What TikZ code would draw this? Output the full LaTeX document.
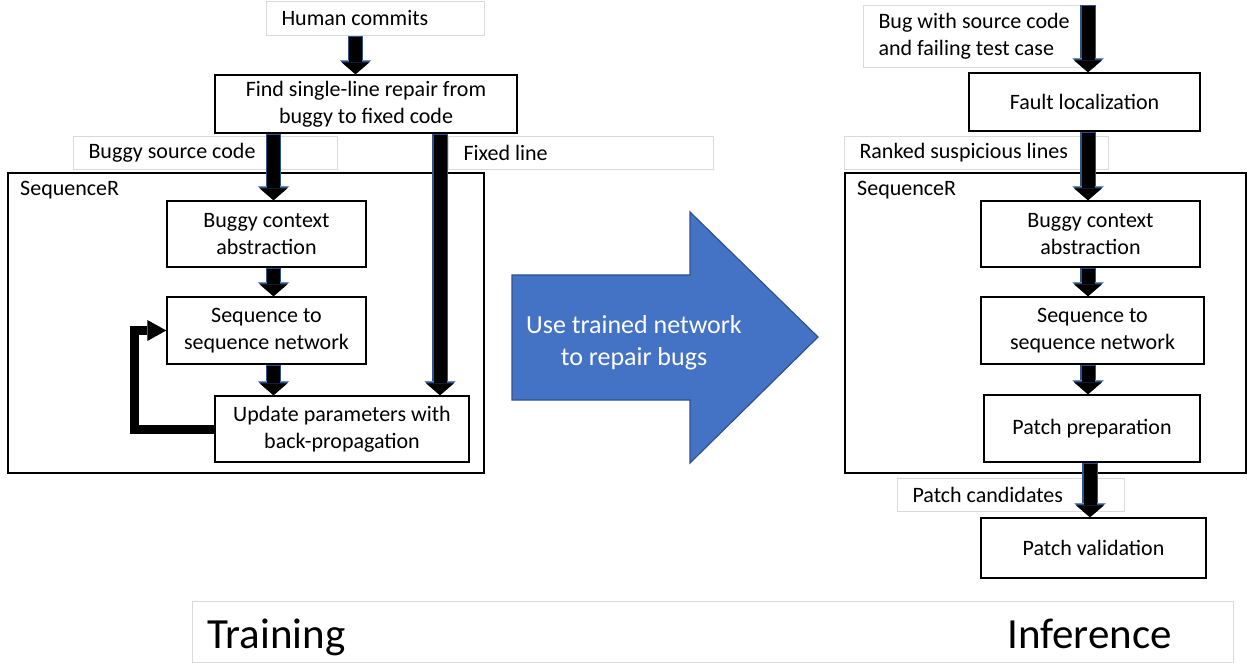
\documentclass[tikz,border=0pt]{standalone}
\usepackage{fontspec}
\setmainfont{Carlito}
\usetikzlibrary{arrows.meta}
\usetikzlibrary{calc}
\definecolor{arrowedge}{HTML}{2F528F}
\definecolor{bigblue}{HTML}{4472C4}
\definecolor{tagline}{HTML}{D9D9D9}
\tikzstyle{stage}=[draw, line width=1.4pt, align=center, inner sep=2pt]
\tikzstyle{tag}=[draw=tagline, line width=1pt, anchor=north west, align=flush left, inner xsep=15pt, inner ysep=0pt]
\tikzstyle{frame}=[draw, line width=1.8pt, anchor=north west, inner sep=0pt]
\tikzstyle{flow}=[line width=13pt, shorten <=1pt, -{Triangle[width=28pt,length=12pt,line width=0pt]},
  preaction={draw=arrowedge, line width=15.5pt, shorten <=0pt, -{Triangle[width=31.5pt,length=14pt,line width=0pt]}}]
\tikzstyle{backloop}=[line width=9pt, -{Triangle[width=21pt,length=19pt,line width=0pt]}]
\newcommand{\basefont}{\fontsize{22}{27}\selectfont}
\newcommand{\bigfont}{\fontsize{26}{32}\selectfont}
\newcommand{\phasefont}{\fontsize{43}{50}\selectfont}

\begin{document}
\begin{tikzpicture}[x=1pt, y=-1pt, font=\basefont]
\useasboundingbox (0,0) rectangle (1248,663);
\begin{scope}
	% training side: tags and containers first
	\node[tag, text width=188pt, minimum height=34pt] (commits) at (266,1) {Human commits};
	\node[tag, text width=234pt, minimum height=33pt] (buggysrc) at (73,136) {Buggy source code};
	\node[tag, text width=235pt, minimum height=33pt] (fixedline) at (448,136) {Fixed line};
	\node[frame, minimum width=476pt, minimum height=300pt] (seqL) at (7,172) {};
	\node[anchor=west, inner sep=0pt] (seqLname) at ([xshift=13pt,yshift=-18pt]seqL.north west) {SequenceR};
	% boxes
	\node[stage, minimum width=302pt, minimum height=58pt] (find) at (366,104) {Find single-line repair from\\buggy to fixed code};
	\node[stage, minimum width=199pt, minimum height=66pt] (ctxL) at (266.5,234) {Buggy context\\abstraction};
	\node[stage, minimum width=199pt, minimum height=67pt] (netL) at (266.5,330.5) {Sequence to\\sequence network};
	\node[stage, minimum width=254pt, minimum height=66pt] (update) at (342,429) {Update parameters with\\back-propagation};
	% arrows
	\draw[flow] ([xshift=-20pt]commits.south) -- ([xshift=-20pt]commits.south |- find.north);
	\draw[flow] ([xshift=7pt]ctxL.north |- find.south) -- ([xshift=7pt]ctxL.north);
	\draw[flow] ([xshift=7pt]ctxL.south) -- ([xshift=7pt]netL.north);
	\draw[flow] ([xshift=7pt]netL.south) -- ([xshift=7pt]netL.south |- update.north);
	\draw[flow] ([xshift=74pt]find.south) -- ([xshift=74pt]find.south |- update.north);
	\draw[backloop] (update.west) -- ++(-80,0) |- (netL.west);
\end{scope}
\begin{scope}
	% big arrow in the middle
	\filldraw[fill=bigblue, draw=arrowedge, line width=1.2pt] (512,275) -- (690,275) -- (690,212) -- (818,337)
		-- (690,463) -- (690,400) -- (512,400) -- cycle;
	\node[text=white, align=center, font=\bigfont] (use) at (634,343) {Use trained network\\to repair bugs};
\end{scope}
\begin{scope}
	% inference side
	\node[tag, text width=202pt, minimum height=62pt] (bug) at (863,5) {Bug with source code\\and failing test case};
	\node[tag, text width=234pt, minimum height=33pt] (ranked) at (844,136) {Ranked suspicious lines};
	\node[frame, minimum width=401pt, minimum height=300pt] (seqR) at (844,172) {};
	\node[anchor=west, inner sep=0pt] (seqRname) at ([xshift=13pt,yshift=-18pt]seqR.north west) {SequenceR};
	\node[tag, text width=197pt, minimum height=33pt] (cands) at (897,478) {Patch candidates};
	\coordinate (colR) at (1088,0);
	\node[stage, minimum width=231pt, minimum height=58pt] (fault) at (1084.5,102) {Fault localization};
	\node[stage, minimum width=219pt, minimum height=66pt] (ctxR) at (1090.5,234) {Buggy context\\abstraction};
	\node[stage, minimum width=223pt, minimum height=67pt] (netR) at (1092.5,330.5) {Sequence to\\sequence network};
	\node[stage, minimum width=216pt, minimum height=67pt] (prep) at (1092,428.5) {Patch preparation};
	\node[stage, minimum width=225pt, minimum height=60pt] (valid) at (1093.5,548) {Patch validation};
	\draw[flow] (bug.north -| colR) -- (fault.north -| colR);
	\draw[flow] (fault.south -| colR) -- (ctxR.north -| colR);
	\draw[flow] (ctxR.south -| colR) -- (netR.north -| colR);
	\draw[flow] (netR.south -| colR) -- (prep.north -| colR);
	\draw[flow] ([xshift=2pt]prep.south -| colR) -- ([xshift=2pt]valid.north -| colR);
\end{scope}
% phase labels
\node[draw=tagline, line width=1pt, anchor=north west, minimum width=1041pt, minimum height=61pt, inner sep=0pt] (phase) at (192,601) {};
\node[anchor=base west, inner sep=0pt, font=\phasefont] (train) at (207,648) {Training};
\node[anchor=base east, inner sep=0pt, font=\phasefont] (infer) at (1172,648) {Inference};
\end{tikzpicture}
\end{document}
